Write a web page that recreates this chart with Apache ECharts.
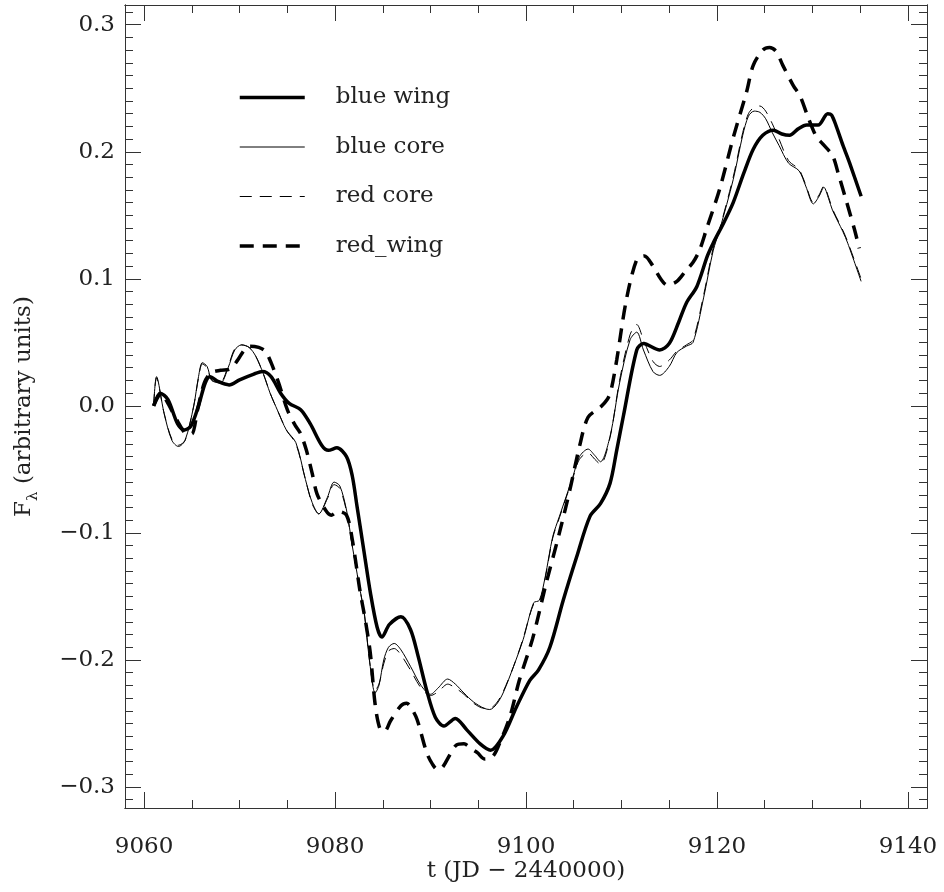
<!DOCTYPE html>
<html>
<head>
<meta charset="utf-8">
<script src="https://cdn.jsdelivr.net/npm/echarts@6/dist/echarts.min.js"></script>
<style>html,body{margin:0;padding:0;background:#fff}#c{width:944px;height:892px}</style>
</head>
<body>
<div id="c"></div>
<script>
// ---- data ----
const seriesNames = ['blue wing', 'blue core', 'red core', 'red_wing'];

const blueWing = [
[9061.0,0.000],[9061.7,0.010],[9062.5,0.005],[9063.5,-0.014],[9064.2,-0.019],[9064.9,-0.016],
[9065.7,0.000],[9066.4,0.018],[9066.9,0.023],[9067.8,0.019],[9068.9,0.0165],[9070.0,0.0205],
[9071.5,0.025],[9072.4,0.027],[9073.3,0.023],[9074.3,0.010],[9075.2,0.002],[9076.4,-0.003],
[9077.4,-0.014],[9078.6,-0.031],[9079.3,-0.035],[9080.2,-0.033],[9081.2,-0.040],[9081.8,-0.055],
[9082.3,-0.079],[9083.0,-0.113],[9083.7,-0.147],[9084.4,-0.174],[9084.9,-0.182],[9085.7,-0.172],
[9086.9,-0.166],[9087.9,-0.176],[9088.7,-0.197],[9089.6,-0.224],[9090.5,-0.245],[9091.4,-0.252],
[9092.6,-0.246],[9093.8,-0.255],[9095.2,-0.266],[9096.3,-0.271],[9097.6,-0.260],[9099.0,-0.237],
[9100.4,-0.216],[9101.3,-0.208],[9102.5,-0.190],[9103.9,-0.153],[9105.3,-0.119],[9106.7,-0.087],
[9107.8,-0.077],[9108.8,-0.061],[9109.5,-0.035],[9110.2,-0.008],[9111.6,0.044],[9112.3,0.049],
[9114.0,0.044],[9115.0,0.049],[9116.0,0.066],[9116.8,0.081],[9117.9,0.094],[9119.0,0.118],
[9119.6,0.128],[9120.7,0.144],[9121.7,0.160],[9122.8,0.183],[9123.8,0.202],[9124.8,0.213],
[9125.9,0.217],[9126.8,0.214],[9127.6,0.213],[9128.5,0.218],[9129.4,0.221],[9130.6,0.221],
[9131.6,0.230],[9132.0,0.229],[9132.5,0.220],[9133.2,0.205],[9133.9,0.191],[9135.1,0.165]
];

const blueCore = [
[9061.0,0.000],[9061.3,0.023],[9062.1,-0.006],[9062.9,-0.027],[9063.6,-0.032],[9064.3,-0.027],
[9065.2,0.000],[9065.7,0.023],[9066.1,0.034],[9066.6,0.031],[9067.1,0.020],[9068.0,0.018],
[9068.8,0.030],[9069.5,0.044],[9070.2,0.048],[9071.0,0.046],[9071.7,0.039],[9072.5,0.025],
[9073.2,0.010],[9074.0,-0.004],[9074.9,-0.019],[9075.9,-0.029],[9076.9,-0.058],[9077.6,-0.076],
[9078.3,-0.085],[9079.2,-0.072],[9079.9,-0.060],[9080.5,-0.063],[9081.2,-0.082],[9081.8,-0.110],
[9082.5,-0.140],[9083.1,-0.165],[9083.6,-0.200],[9084.2,-0.226],[9084.6,-0.220],[9085.1,-0.200],
[9085.6,-0.190],[9086.2,-0.187],[9086.9,-0.192],[9087.9,-0.205],[9089.0,-0.220],[9090.0,-0.227],
[9090.8,-0.222],[9091.8,-0.215],[9092.6,-0.219],[9093.5,-0.226],[9094.5,-0.233],[9095.6,-0.238],
[9096.2,-0.239],[9096.9,-0.235],[9097.6,-0.226],[9098.7,-0.205],[9099.7,-0.184],[9100.8,-0.155],
[9101.4,-0.153],[9102.0,-0.135],[9102.8,-0.103],[9103.5,-0.087],[9104.9,-0.056],[9105.6,-0.040],
[9106.5,-0.034],[9107.2,-0.039],[9107.8,-0.044],[9108.8,-0.024],[9109.8,0.018],[9110.9,0.052],
[9111.6,0.058],[9112.3,0.044],[9113.3,0.027],[9114.0,0.024],[9115.0,0.031],[9115.8,0.042],
[9116.8,0.047],[9117.5,0.050],[9118.6,0.085],[9119.6,0.122],[9120.3,0.139],[9121.7,0.178],
[9122.7,0.213],[9123.3,0.228],[9123.9,0.232],[9124.5,0.231],[9125.1,0.226],[9125.8,0.215],
[9126.5,0.205],[9127.5,0.191],[9128.6,0.185],[9129.3,0.173],[9130.1,0.159],[9130.7,0.165],
[9131.2,0.172],[9131.7,0.163],[9132.1,0.154],[9133.2,0.137],[9133.7,0.128],[9135.1,0.098]
];

const redCore = [
[9061.0,0.000],[9061.3,0.022],[9062.1,-0.006],[9062.9,-0.026],[9063.6,-0.031],[9064.3,-0.027],
[9065.2,0.000],[9065.7,0.022],[9066.1,0.033],[9066.6,0.030],[9067.1,0.020],[9068.0,0.019],
[9068.8,0.031],[9069.5,0.045],[9070.2,0.048],[9071.0,0.046],[9071.7,0.039],[9072.5,0.025],
[9073.2,0.010],[9074.0,-0.004],[9074.9,-0.019],[9075.9,-0.030],[9076.9,-0.058],[9077.6,-0.077],
[9078.3,-0.085],[9079.2,-0.073],[9079.9,-0.062],[9080.5,-0.065],[9081.2,-0.083],[9081.8,-0.110],
[9082.5,-0.140],[9083.1,-0.166],[9083.6,-0.200],[9084.2,-0.224],[9084.6,-0.219],[9085.1,-0.203],
[9085.6,-0.193],[9086.2,-0.191],[9086.9,-0.196],[9087.9,-0.208],[9089.0,-0.222],[9090.0,-0.228],
[9090.8,-0.225],[9091.8,-0.219],[9092.6,-0.222],[9093.5,-0.227],[9094.5,-0.234],[9095.6,-0.238],
[9096.2,-0.238],[9096.9,-0.234],[9097.6,-0.225],[9098.7,-0.205],[9099.7,-0.183],[9100.8,-0.156],
[9101.4,-0.154],[9102.0,-0.136],[9102.8,-0.104],[9103.5,-0.088],[9104.9,-0.057],[9105.6,-0.042],
[9106.5,-0.037],[9107.2,-0.042],[9107.8,-0.046],[9108.8,-0.025],[9109.8,0.020],[9110.9,0.056],
[9111.6,0.064],[9112.3,0.052],[9113.3,0.035],[9114.0,0.031],[9115.0,0.036],[9115.8,0.043],
[9116.8,0.048],[9117.5,0.052],[9118.6,0.087],[9119.6,0.124],[9120.3,0.140],[9121.7,0.180],
[9122.7,0.215],[9123.3,0.230],[9123.9,0.235],[9124.5,0.236],[9125.1,0.232],[9125.8,0.222],
[9126.5,0.210],[9127.5,0.193],[9128.6,0.186],[9129.3,0.174],[9130.1,0.160],[9130.7,0.166],
[9131.2,0.173],[9131.7,0.164],[9132.1,0.155],[9133.2,0.138],[9133.7,0.129],[9135.1,0.100]
];

const redWing = [
[9061.0,0.000],[9061.8,0.010],[9062.5,0.002],[9063.5,-0.012],[9064.5,-0.022],[9065.0,-0.022],
[9065.6,-0.003],[9066.3,0.018],[9067.0,0.026],[9068.0,0.028],[9069.0,0.029],[9069.8,0.036],
[9070.5,0.044],[9071.1,0.047],[9072.0,0.046],[9072.7,0.043],[9073.3,0.034],[9074.1,0.018],
[9075.0,-0.003],[9075.8,-0.015],[9076.4,-0.022],[9077.0,-0.035],[9077.6,-0.053],[9078.1,-0.069],
[9079.0,-0.082],[9079.6,-0.086],[9080.3,-0.083],[9081.2,-0.086],[9081.8,-0.105],[9082.6,-0.145],
[9083.2,-0.170],[9083.7,-0.195],[9084.2,-0.235],[9084.7,-0.254],[9085.2,-0.256],[9085.8,-0.248],
[9086.9,-0.236],[9087.5,-0.234],[9088.0,-0.238],[9088.6,-0.247],[9089.6,-0.273],[9090.2,-0.282],
[9090.7,-0.286],[9091.2,-0.285],[9092.0,-0.275],[9092.7,-0.267],[9093.5,-0.266],[9094.3,-0.270],
[9094.9,-0.273],[9095.7,-0.278],[9096.5,-0.276],[9097.1,-0.268],[9098.3,-0.245],[9099.3,-0.216],
[9100.7,-0.183],[9102.1,-0.140],[9103.5,-0.100],[9104.6,-0.066],[9105.6,-0.032],[9106.5,-0.009],
[9107.8,-0.001],[9108.5,0.005],[9108.9,0.012],[9109.5,0.036],[9110.5,0.083],[9111.6,0.115],
[9112.4,0.118],[9113.3,0.110],[9114.1,0.100],[9114.8,0.095],[9115.8,0.098],[9116.7,0.106],
[9117.5,0.113],[9118.2,0.123],[9118.9,0.139],[9120.3,0.171],[9121.7,0.211],[9123.1,0.247],
[9123.8,0.268],[9124.8,0.280],[9125.5,0.282],[9126.2,0.279],[9126.9,0.268],[9128.0,0.252],
[9128.7,0.244],[9129.5,0.228],[9130.4,0.212],[9131.1,0.206],[9132.1,0.197],[9132.7,0.183],
[9133.6,0.160],[9134.4,0.139],[9134.9,0.124]
];

const xMajorTicks = [9060, 9080, 9100, 9120, 9140];
const xMinorTicks = [9060, 9065, 9070, 9075, 9080, 9085, 9090, 9095, 9100, 9105, 9110, 9115, 9120, 9125, 9130, 9135, 9140];
const yMajorTicks = [-0.3, -0.2, -0.1, 0, 0.1, 0.2, 0.3];
const yMinorTicks = [];
for (let i = -31; i <= 31; i++) yMinorTicks.push(i / 100);

const xRange = [9058, 9142];
const yRange = [-0.3165, 0.3155];

// ---- styling ----
const FONT = 'DejaVu Serif';
const TXT = '#222';
const AX = '#333';
const FS = 23;
const lineWidths = [3.5, 1, 1, 3.5];
const lineTypes = ['solid', 'solid', [12, 8], [14, 9]];

function xAx(pos, ticks, len, opts) {
  return Object.assign({
    type: 'value', min: xRange[0], max: xRange[1], position: pos,
    axisLine: { show: true, onZero: false, lineStyle: { color: AX, width: 1 } },
    axisTick: { show: true, inside: true, length: len, customValues: ticks, lineStyle: { color: AX, width: 1 } },
    axisLabel: { show: false },
    splitLine: { show: false }
  }, opts || {});
}
function yAx(pos, ticks, len, opts) {
  return Object.assign({
    type: 'value', min: yRange[0], max: yRange[1], position: pos,
    axisLine: { show: true, onZero: false, lineStyle: { color: AX, width: 1 } },
    axisTick: { show: true, inside: true, length: len, customValues: ticks, lineStyle: { color: AX, width: 1 } },
    axisLabel: { show: false },
    splitLine: { show: false }
  }, opts || {});
}

const seriesData = [blueWing, blueCore, redCore, redWing];

const option = {
  animation: false,
  backgroundColor: '#fff',
  grid: { left: 125, right: 17, top: 5, bottom: 84, containLabel: false, outerBoundsMode: 'none' },
  legend: {
    orient: 'vertical', left: 238, top: 86, padding: 0,
    itemWidth: 65, itemHeight: 24, itemGap: 26.5,
    data: seriesNames.map((n, i) => ({
      name: n,
      itemStyle: { opacity: 0, borderWidth: 0 },
      lineStyle: { width: lineWidths[i], type: lineTypes[i], color: '#000' }
    })),
    textStyle: { fontFamily: FONT, fontSize: FS, color: TXT, padding: [0, 0, 0, 26] }
  },
  xAxis: [
    xAx('bottom', xMajorTicks, 16, {
      axisLabel: { show: true, customValues: xMajorTicks, margin: 28, fontFamily: FONT, fontSize: FS, color: TXT,
        formatter: v => String(Math.round(v)) },
      name: 't (JD \u2212 2440000)', nameLocation: 'middle', nameGap: 52, nameMoveOverlap: false,
      nameTextStyle: { fontFamily: FONT, fontSize: FS, color: TXT }
    }),
    xAx('bottom', xMinorTicks, 8),
    xAx('top', xMajorTicks, 16),
    xAx('top', xMinorTicks, 8)
  ],
  yAxis: [
    yAx('left', yMajorTicks, 16, {
      axisLabel: { show: true, customValues: yMajorTicks, margin: 10, fontFamily: FONT, fontSize: FS, color: TXT,
        formatter: v => (v < -1e-9 ? '\u2212' : '') + Math.abs(v).toFixed(1) },
      name: '{f|F}{l|\u03bb}{f| (arbitrary units)}', nameLocation: 'middle', nameGap: 86, nameRotate: 90,
      nameTextStyle: {
        fontFamily: FONT, fontSize: FS, color: TXT,
        rich: {
          f: { fontFamily: FONT, fontSize: FS, color: TXT, lineHeight: 26, verticalAlign: 'top' },
          l: { fontFamily: FONT, fontSize: 15, color: TXT, lineHeight: 15, verticalAlign: 'top', padding: [13, 0, 0, 0] }
        }
      }
    }),
    yAx('left', yMinorTicks, 8),
    yAx('right', yMajorTicks, 16),
    yAx('right', yMinorTicks, 8)
  ],
  series: seriesNames.map((n, i) => ({
    name: n, type: 'line', data: seriesData[i], smooth: 0.3, symbol: 'none', showSymbol: false,
    lineStyle: { color: '#000', width: lineWidths[i], type: lineTypes[i] },
    itemStyle: { color: '#000' }
  }))
};

const chart = echarts.init(document.getElementById('c'), null, { renderer: 'canvas' });
chart.setOption(option);
</script>
</body>
</html>
